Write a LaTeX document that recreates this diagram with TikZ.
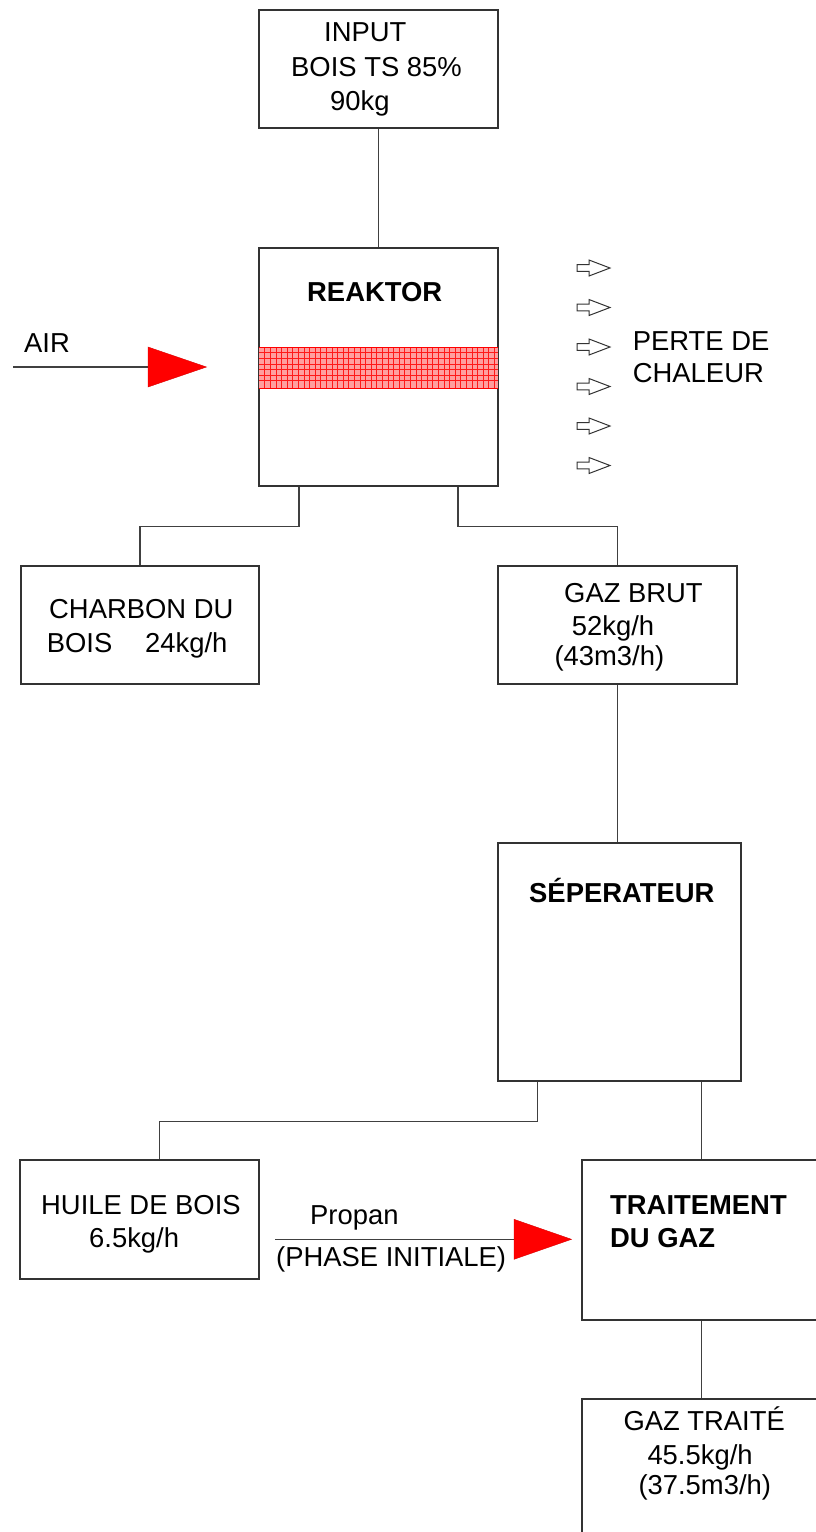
\documentclass[tikz,border=0pt]{standalone}
\usepackage{fontspec}
\setmainfont{Liberation Sans}
\begin{document}
\begin{tikzpicture}[x=1pt,y=-1pt,
  box/.style={draw=black!80, line width=1.3pt, rectangle, inner sep=0pt},
  link/.style={draw=black!75, line width=1.1pt},
  lbl/.style={anchor=base west, inner sep=0pt, font=\fontsize{27.4}{32}\selectfont},
  blbl/.style={lbl, font=\fontsize{27.4}{32}\selectfont\bfseries},
  heatarrow/.style={draw=black!80, line width=1pt, fill=white, line join=miter},
  feed/.style={fill=red, draw=red!85!black, line width=0.4pt}]
\useasboundingbox (0,0) rectangle (816,1532);
\fill[white] (0,0) rectangle (816,1532);
\clip (0,0) rectangle (816,1532);

% process blocks
\node[box, minimum width=239pt, minimum height=118pt] (input)   at (378.5,69)    {};
\node[box, minimum width=239pt, minimum height=238pt] (reak)    at (378.5,367)   {};
\node[box, minimum width=238pt, minimum height=118pt] (charbon) at (140,625)     {};
\node[box, minimum width=239pt, minimum height=118pt] (gazbrut) at (617.5,625)   {};
\node[box, minimum width=243pt, minimum height=238pt] (sep)     at (619.5,962)   {};
\node[box, minimum width=239pt, minimum height=119pt] (huile)   at (139.5,1219.5){};
\node[box, minimum width=239pt, minimum height=160pt] (trait)   at (701.5,1240)  {};
\node[box, minimum width=239pt, minimum height=161pt] (gtraite) at (701.5,1479.5){};

% grate band inside the reactor
\fill[red!38] (259,347) rectangle (498,388);
\foreach \gx in {264.6,270.2,...,496} \draw[red!90, line width=0.6pt] (\gx,347) -- (\gx,388);
\foreach \gy in {352.6,358.2,...,386} \draw[red!90, line width=0.6pt] (259,\gy) -- (498,\gy);
\draw[red, line width=1pt] (259,347) -- (498,347) (259,388) -- (498,388);
\draw[box, fill=none] (reak.north west) rectangle (reak.south east);

% connectors between blocks
\draw[link] (input.south) -- (input.south |- reak.north);
\draw[link] ([xshift=-79.5pt]reak.south) -- ++(0,40) -| (charbon.north);
\draw[link] ([xshift=79.5pt]reak.south) -- ++(0,40) -| (gazbrut.north);
\draw[link] (gazbrut.south) -- (gazbrut.south |- sep.north);
\draw[link] ([xshift=40pt]sep.south west) -- ++(0,40) -| ([xshift=140pt]huile.north west);
\draw[link] (sep.south -| trait.north) -- (trait.north);
\draw[link] (trait.south) -- (gtraite.north);

% air feed
\coordinate (airsrc) at (13,367);
\coordinate (airhead) at (148,367);
\draw[link] (airsrc) -- (airhead);
\filldraw[feed] (airhead) ++(0,-20) -- ++(58.5,20) -- ++(-58.5,20) -- cycle;

% propane feed
\coordinate (propsrc) at (275,1239.3);
\coordinate (prophead) at (514,1239.3);
\draw[link] (propsrc) -- (prophead);
\filldraw[feed] (prophead) ++(0,-20) -- ++(57.5,20) -- ++(-57.5,20) -- cycle;

% heat loss arrows
\foreach \hy in {268,307.5,347,386.5,426,465.5}
  \draw[heatarrow] (577,\hy-3.4) -- (589,\hy-3.4) -- (589,\hy-8) -- (610,\hy)
     -- (589,\hy+8) -- (589,\hy+3.4) -- (577,\hy+3.4) -- cycle;

% labels
\node[lbl]  (tinput)  at (324,41.5)    {INPUT};
\node[lbl]  (tbois)   at (291,76)      {BOIS TS 85\%};
\node[lbl]  (tmass)   at (330,110)     {90kg};
\node[blbl] (treak)   at (307,301.5)   {REAKTOR};
\node[lbl]  (tair)    at (24,352)      {AIR};
\node[lbl]  (tperte)  at (632.7,350)   {PERTE DE};
\node[lbl]  (tchal)   at (632.7,382)   {CHALEUR};
\node[lbl]  (tchar)   at (49,618)      {CHARBON DU};
\node[lbl]  (tchar2)  at (46.7,652)    {BOIS};
\node[lbl]  (tchar3)  at (145,652)     {24kg/h};
\node[lbl]  (tgb)     at (564,602)     {GAZ BRUT};
\node[lbl]  (tgb2)    at (571.7,635)   {52kg/h};
\node[lbl]  (tgb3)    at (554.3,665)   {(43m3/h)};
\node[blbl] (tsep)    at (529,902.5)   {SÉPERATEUR};
\node[lbl]  (thuile)  at (41,1214.5)   {HUILE DE BOIS};
\node[lbl]  (thuile2) at (89,1247.5)   {6.5kg/h};
\node[lbl]  (tprop)   at (310,1224.3)  {Propan};
\node[lbl]  (tphase)  at (276,1266)    {(PHASE INITIALE)};
\node[blbl] (ttrait)  at (610,1214)    {TRAITEMENT};
\node[blbl] (ttrait2) at (610,1247.5)  {DU GAZ};
\node[lbl]  (tgt)     at (623.3,1430.7){GAZ TRAITÉ};
\node[lbl]  (tgt2)    at (647.3,1464)  {45.5kg/h};
\node[lbl]  (tgt3)    at (638.3,1494.5){(37.5m3/h)};
\end{tikzpicture}
\end{document}
